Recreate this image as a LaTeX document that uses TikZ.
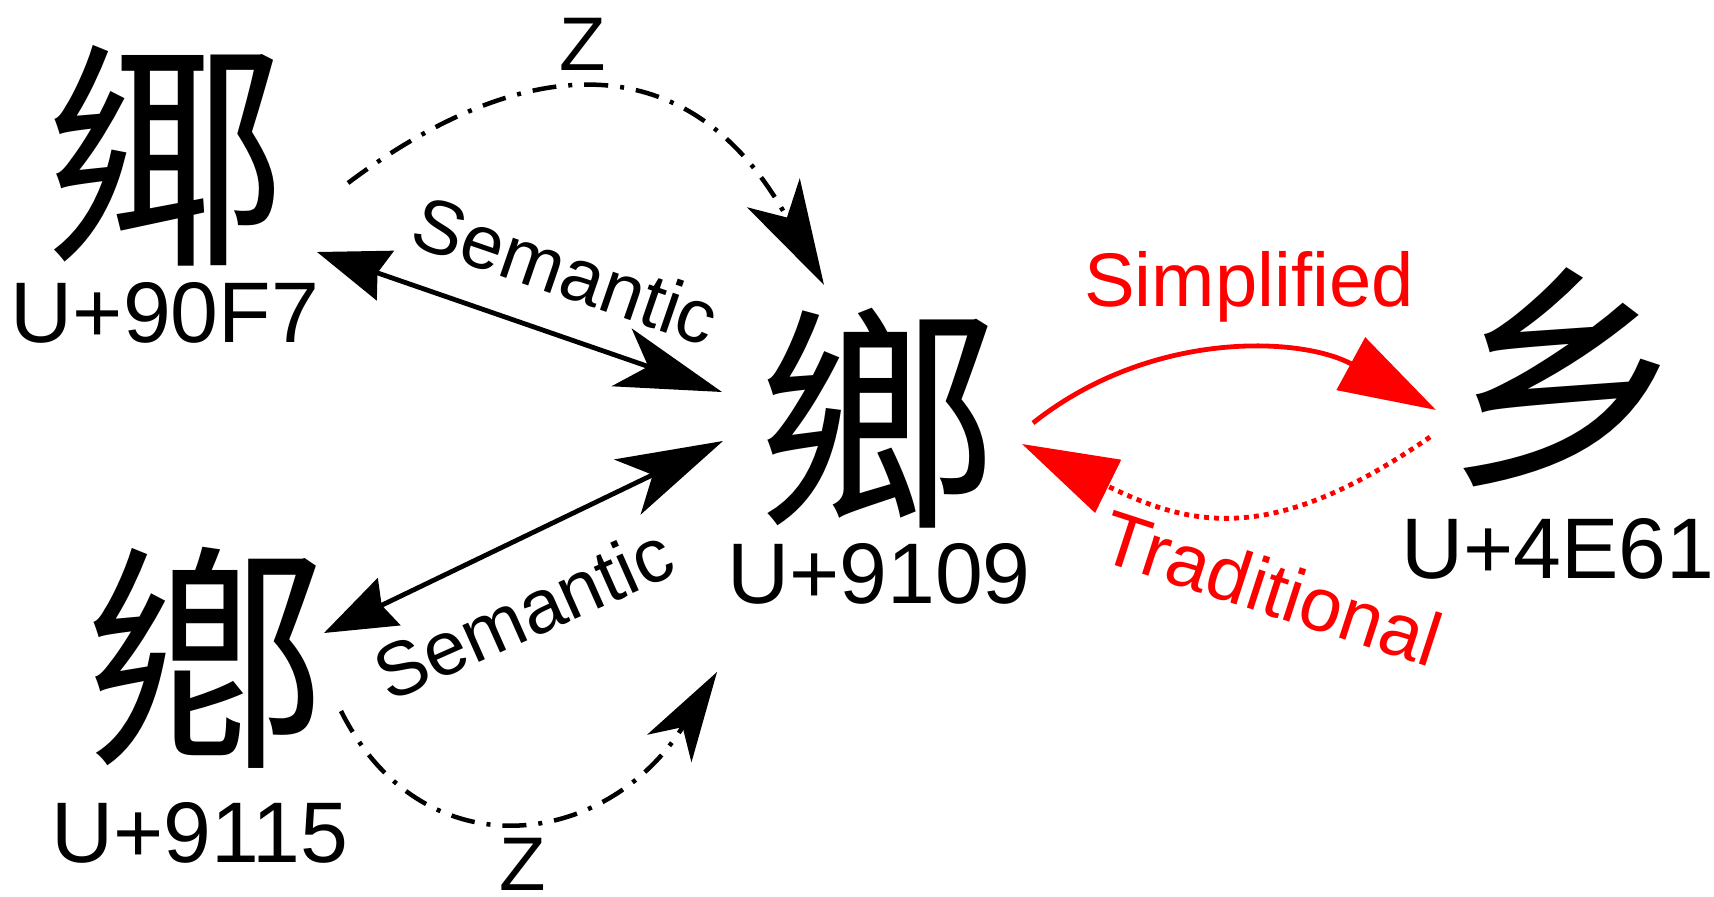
\documentclass[tikz,border=0pt]{standalone}
\usepackage{fontspec}
\setmainfont{Liberation Sans}
\newfontfamily\cjk{Noto Sans CJK TC}
\usetikzlibrary{arrows.meta}
\begin{document}
\begin{tikzpicture}[x=1pt,y=-1pt,
  hanzi/.style={font=\cjk\fontsize{240}{240}\selectfont, inner sep=0pt},
  code/.style={font=\fontsize{86}{86}\selectfont, inner sep=0pt},
  rel/.style={font=\fontsize{76}{76}\selectfont, inner sep=0pt},
  semarrow/.style={line width=4.8pt, {Stealth[length=72pt,width=52pt,inset=8pt]}-{Stealth[length=106pt,width=61pt,inset=28pt]}},
  zline/.style={line width=4.5pt, dash pattern=on 24pt off 12pt on 4pt off 12pt},
  simparrow/.style={red, line width=4.8pt, -{Triangle[length=97pt,width=59pt]}},
  tradarrow/.style={red, line width=4.8pt, dash pattern=on 5pt off 5pt, -{Triangle[length=96pt,width=58pt]}}
]
\useasboundingbox (0,0) rectangle (1714,897);
% characters
\node[hanzi] (c90F7) at (166,156) {鄊};
\node[hanzi] (c9109) at (877,418) {鄉};
\node[hanzi] (c9115) at (205,658) {鄕};
\node[hanzi] (c4E61) at (1566,377) {乡};
% code labels
\node[code] (l90F7) at (165,313) {U+90F7};
\node[code] (l9109) at (879,574) {U+9109};
\node[code] (l9115) at (200,833) {U+9115};
\node[code] (l4E61) at (1558,549) {U+4E61};
% endpoints
\coordinate (a1) at (317,252);
\coordinate (a2) at (722,392);
\coordinate (b1) at (324,633);
\coordinate (b2) at (723,441);
\coordinate (z1s) at (348,183);
\coordinate (z1e) at (824,285);
\coordinate (z2s) at (341,711);
\coordinate (z2e) at (717,672);
\coordinate (ss) at (1033,423);
\coordinate (se) at (1436,410);
\coordinate (ts) at (1430,437);
\coordinate (te) at (1022,444);
% connectors
\draw[semarrow] (a1) -- (a2);
\draw[semarrow] (b1) -- (b2);
\draw[zline, -{Stealth[length=105pt,width=60pt,inset=28pt]}] (z1s) .. controls (524,51) and (690,41) .. (z1e);
\draw[zline, -{Stealth[length=90pt,width=52pt,inset=25pt]}] (z2s) .. controls (422,873) and (606,850) .. (z2e);
\draw[simparrow] (ss) .. controls (1150,330) and (1300,336) .. (se);
\draw[tradarrow] (ts) .. controls (1274,545) and (1193,528) .. (te);
% relation labels
\node[rel, rotate=-19] (sem1) at (566,270) {Semantic};
\node[rel, rotate=24] (sem2) at (523,613) {Semantic};
\node[rel] (z1) at (583,44) {Z};
\node[rel] (z2) at (523,864) {Z};
\node[rel, red] (simp) at (1249,287) {Simplified};
\node[rel, red, rotate=-18] (trad) at (1272,588) {Traditional};
\end{tikzpicture}
\end{document}
